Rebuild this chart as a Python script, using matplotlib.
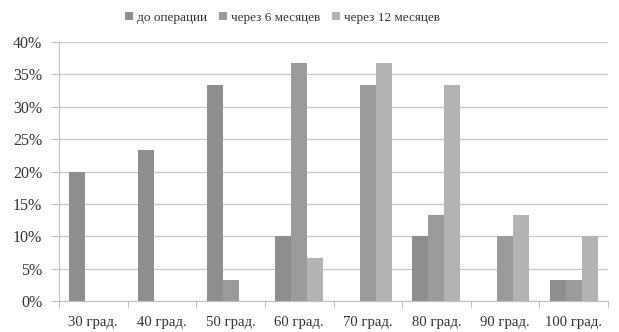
import matplotlib
matplotlib.use("Agg")
import matplotlib.pyplot as plt
import numpy as np
from matplotlib.ticker import FixedLocator, PercentFormatter

categories = ["30 град.", "40 град.", "50 град.", "60 град.", "70 град.", "80 град.", "90 град.", "100 град."]
series_names = ["до операции", "через 6 месяцев", "через 12 месяцев"]
before = [20.0, 23.3, 33.3, 10.0, 0.0, 10.0, 0.0, 3.3]
after6 = [0.0, 0.0, 3.3, 36.7, 33.3, 13.3, 10.0, 3.3]
after12 = [0.0, 0.0, 0.0, 6.7, 36.7, 33.3, 13.3, 10.0]
colors = ["#8e8e90", "#9b9b9d", "#b3b3b5"]

plt.rcParams['font.family'] = ['Liberation Serif', 'DejaVu Serif']
fig = plt.figure(figsize=(6.19, 3.32), dpi=100)
ax = fig.add_axes([0.0953, 0.0934, 0.887, 0.78])

x = np.arange(len(categories))
w = 0.233
for i, (vals, name, c) in enumerate(zip([before, after6, after12], series_names, colors)):
    ax.bar(x + (i - 1) * w, vals, width=w, color=c, label=name, zorder=3)

ax.set_xlim(-0.5, len(categories) - 0.5)
ax.set_ylim(0, 40)
ax.set_yticks(np.arange(0, 41, 5))
ax.yaxis.set_major_formatter(PercentFormatter(decimals=0))
ax.set_xticks(x)
ax.set_xticklabels(categories)
ax.xaxis.set_minor_locator(FixedLocator(np.arange(-0.5, len(categories), 1)))
ax.tick_params(axis='x', which='major', length=0, pad=11, labelsize=10.6, colors='#333333')
ax.tick_params(axis='x', which='minor', length=5, color='#bfbfbf', width=0.8)
ax.tick_params(axis='y', length=6, color='#bfbfbf', width=0.8, labelsize=11.5, labelcolor='#333333', pad=6)
ax.grid(axis='y', color='#c8c8c8', linewidth=0.9, zorder=0)
for s in ['top', 'right']:
    ax.spines[s].set_visible(False)
ax.spines['left'].set_color('#bfbfbf')
ax.spines['bottom'].set_color('#bfbfbf')

fig.legend(loc='upper center', bbox_to_anchor=(0.456, 1.0), ncol=3, frameon=False,
           fontsize=9.5, handlelength=0.6, handleheight=0.6, handletextpad=0.3,
           columnspacing=0.9, labelcolor='#333333')

fig.savefig("out.png", dpi=100)
